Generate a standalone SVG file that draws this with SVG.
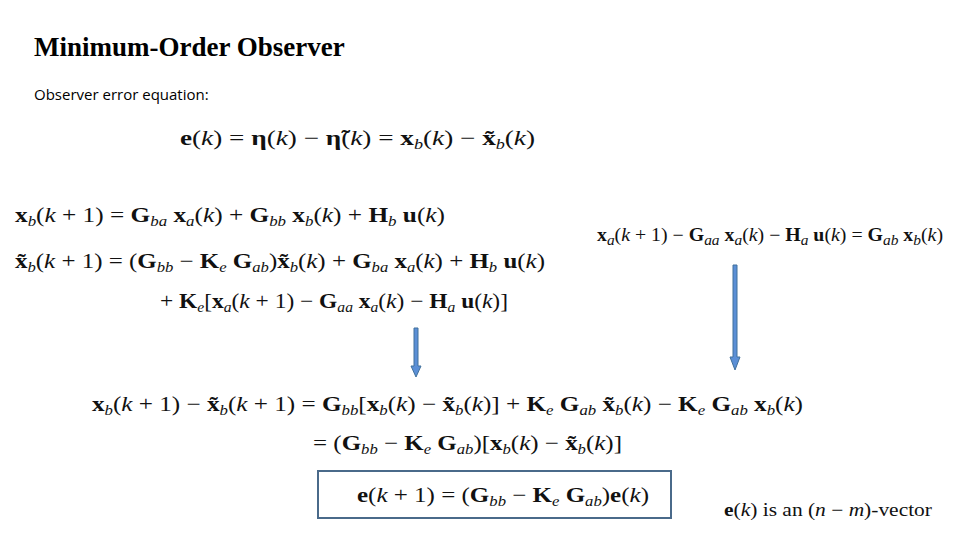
<svg xmlns="http://www.w3.org/2000/svg" width="960" height="540" viewBox="0 0 960 540">
<style>
.t{font-family:"Liberation Serif",serif;font-weight:bold;font-size:27px;fill:#000}
.c{font-family:"Open Sans","Liberation Sans",sans-serif;font-size:15px;fill:#000}
.m{font-family:"Liberation Serif",serif;font-size:21px;fill:#111}
.b{font-weight:bold}
.i{font-style:italic}
.s{font-size:14px;font-style:italic}
.arr{fill:#5b8fd6;stroke:#41719c;stroke-width:1}
</style>
<rect width="960" height="540" fill="#fff"/>
<g id="title"><text class="t" x="34" y="56">Minimum-Order Observer</text></g>
<g id="subtitle"><text class="c" x="34" y="100">Observer error equation:</text></g>
<g id="eq1"><text class="m" x="180" y="145" textLength="355" lengthAdjust="spacingAndGlyphs"><tspan class="b">e</tspan>(<tspan class="i">k</tspan>) = <tspan class="b">η</tspan>(<tspan class="i">k</tspan>) − <tspan class="b">η̃</tspan>(<tspan class="i">k</tspan>) = <tspan class="b">x</tspan><tspan class="s" dy="4">b</tspan><tspan dy="-4">(</tspan><tspan class="i">k</tspan>) − <tspan class="b">x̃</tspan><tspan class="s" dy="4">b</tspan><tspan dy="-4">(</tspan><tspan class="i">k</tspan>)</text></g>
<g id="eq2"><text class="m" x="15" y="222" textLength="430" lengthAdjust="spacingAndGlyphs"><tspan class="b">x</tspan><tspan class="s" dy="4">b</tspan><tspan dy="-4">(</tspan><tspan class="i">k</tspan> + 1) = <tspan class="b">G</tspan><tspan class="s" dy="4">ba</tspan><tspan dy="-4"> </tspan><tspan class="b">x</tspan><tspan class="s" dy="4">a</tspan><tspan dy="-4">(</tspan><tspan class="i">k</tspan>) + <tspan class="b">G</tspan><tspan class="s" dy="4">bb</tspan><tspan dy="-4"> </tspan><tspan class="b">x</tspan><tspan class="s" dy="4">b</tspan><tspan dy="-4">(</tspan><tspan class="i">k</tspan>) + <tspan class="b">H</tspan><tspan class="s" dy="4">b</tspan><tspan dy="-4"> </tspan><tspan class="b">u</tspan>(<tspan class="i">k</tspan>)</text></g>
<g id="eq3"><text class="m" x="15" y="268" textLength="530" lengthAdjust="spacingAndGlyphs"><tspan class="b">x̃</tspan><tspan class="s" dy="4">b</tspan><tspan dy="-4">(</tspan><tspan class="i">k</tspan> + 1) = (<tspan class="b">G</tspan><tspan class="s" dy="4">bb</tspan><tspan dy="-4"> − </tspan><tspan class="b">K</tspan><tspan class="s" dy="4">e</tspan><tspan dy="-4"> </tspan><tspan class="b">G</tspan><tspan class="s" dy="4">ab</tspan><tspan dy="-4">)</tspan><tspan class="b">x̃</tspan><tspan class="s" dy="4">b</tspan><tspan dy="-4">(</tspan><tspan class="i">k</tspan>) + <tspan class="b">G</tspan><tspan class="s" dy="4">ba</tspan><tspan dy="-4"> </tspan><tspan class="b">x</tspan><tspan class="s" dy="4">a</tspan><tspan dy="-4">(</tspan><tspan class="i">k</tspan>) + <tspan class="b">H</tspan><tspan class="s" dy="4">b</tspan><tspan dy="-4"> </tspan><tspan class="b">u</tspan>(<tspan class="i">k</tspan>)</text></g>
<g id="eq4"><text class="m" x="160" y="308" textLength="348" lengthAdjust="spacingAndGlyphs">+ <tspan class="b">K</tspan><tspan class="s" dy="4">e</tspan><tspan dy="-4">[</tspan><tspan class="b">x</tspan><tspan class="s" dy="4">a</tspan><tspan dy="-4">(</tspan><tspan class="i">k</tspan> + 1) − <tspan class="b">G</tspan><tspan class="s" dy="4">aa</tspan><tspan dy="-4"> </tspan><tspan class="b">x</tspan><tspan class="s" dy="4">a</tspan><tspan dy="-4">(</tspan><tspan class="i">k</tspan>) − <tspan class="b">H</tspan><tspan class="s" dy="4">a</tspan><tspan dy="-4"> </tspan><tspan class="b">u</tspan>(<tspan class="i">k</tspan>)]</text></g>
<g id="eqR"><text class="m" x="597" y="241" textLength="346" lengthAdjust="spacingAndGlyphs" style="font-size:18px"><tspan class="b">x</tspan><tspan class="s" dy="4">a</tspan><tspan dy="-4">(</tspan><tspan class="i">k</tspan> + 1) − <tspan class="b">G</tspan><tspan class="s" dy="4">aa</tspan><tspan dy="-4"> </tspan><tspan class="b">x</tspan><tspan class="s" dy="4">a</tspan><tspan dy="-4">(</tspan><tspan class="i">k</tspan>) − <tspan class="b">H</tspan><tspan class="s" dy="4">a</tspan><tspan dy="-4"> </tspan><tspan class="b">u</tspan>(<tspan class="i">k</tspan>) = <tspan class="b">G</tspan><tspan class="s" dy="4">ab</tspan><tspan dy="-4"> </tspan><tspan class="b">x</tspan><tspan class="s" dy="4">b</tspan><tspan dy="-4">(</tspan><tspan class="i">k</tspan>)</text></g>
<g id="connectors">
<path class="arr" d="M414 328 H418 V366 H421 L416 377 L411 366 H414 Z"/>
<path class="arr" d="M733 265 H737 V357 H740 L735 370 L730 357 H733 Z"/>
</g>
<g id="eq5"><text class="m" x="92" y="411" textLength="711" lengthAdjust="spacingAndGlyphs"><tspan class="b">x</tspan><tspan class="s" dy="4">b</tspan><tspan dy="-4">(</tspan><tspan class="i">k</tspan> + 1) − <tspan class="b">x̃</tspan><tspan class="s" dy="4">b</tspan><tspan dy="-4">(</tspan><tspan class="i">k</tspan> + 1) = <tspan class="b">G</tspan><tspan class="s" dy="4">bb</tspan><tspan dy="-4">[</tspan><tspan class="b">x</tspan><tspan class="s" dy="4">b</tspan><tspan dy="-4">(</tspan><tspan class="i">k</tspan>) − <tspan class="b">x̃</tspan><tspan class="s" dy="4">b</tspan><tspan dy="-4">(</tspan><tspan class="i">k</tspan>)] + <tspan class="b">K</tspan><tspan class="s" dy="4">e</tspan><tspan dy="-4"> </tspan><tspan class="b">G</tspan><tspan class="s" dy="4">ab</tspan><tspan dy="-4"> </tspan><tspan class="b">x̃</tspan><tspan class="s" dy="4">b</tspan><tspan dy="-4">(</tspan><tspan class="i">k</tspan>) − <tspan class="b">K</tspan><tspan class="s" dy="4">e</tspan><tspan dy="-4"> </tspan><tspan class="b">G</tspan><tspan class="s" dy="4">ab</tspan><tspan dy="-4"> </tspan><tspan class="b">x</tspan><tspan class="s" dy="4">b</tspan><tspan dy="-4">(</tspan><tspan class="i">k</tspan>)</text></g>
<g id="eq6"><text class="m" x="313" y="450" textLength="309" lengthAdjust="spacingAndGlyphs">= (<tspan class="b">G</tspan><tspan class="s" dy="4">bb</tspan><tspan dy="-4"> − </tspan><tspan class="b">K</tspan><tspan class="s" dy="4">e</tspan><tspan dy="-4"> </tspan><tspan class="b">G</tspan><tspan class="s" dy="4">ab</tspan><tspan dy="-4">)[</tspan><tspan class="b">x</tspan><tspan class="s" dy="4">b</tspan><tspan dy="-4">(</tspan><tspan class="i">k</tspan>) − <tspan class="b">x̃</tspan><tspan class="s" dy="4">b</tspan><tspan dy="-4">(</tspan><tspan class="i">k</tspan>)]</text></g>
<g id="result">
<rect x="318" y="471" width="353" height="47" fill="none" stroke="#4a6a8a" stroke-width="2"/>
<text class="m" x="357" y="502" textLength="292" lengthAdjust="spacingAndGlyphs"><tspan class="b">e</tspan>(<tspan class="i">k</tspan> + 1) = (<tspan class="b">G</tspan><tspan class="s" dy="4">bb</tspan><tspan dy="-4"> − </tspan><tspan class="b">K</tspan><tspan class="s" dy="4">e</tspan><tspan dy="-4"> </tspan><tspan class="b">G</tspan><tspan class="s" dy="4">ab</tspan><tspan dy="-4">)</tspan><tspan class="b">e</tspan>(<tspan class="i">k</tspan>)</text>
</g>
<g id="note"><text class="m" x="724" y="516" textLength="208" lengthAdjust="spacingAndGlyphs" style="font-size:18px"><tspan class="b">e</tspan>(<tspan class="i">k</tspan>) is an (<tspan class="i">n</tspan> − <tspan class="i">m</tspan>)-vector</text></g>
</svg>
